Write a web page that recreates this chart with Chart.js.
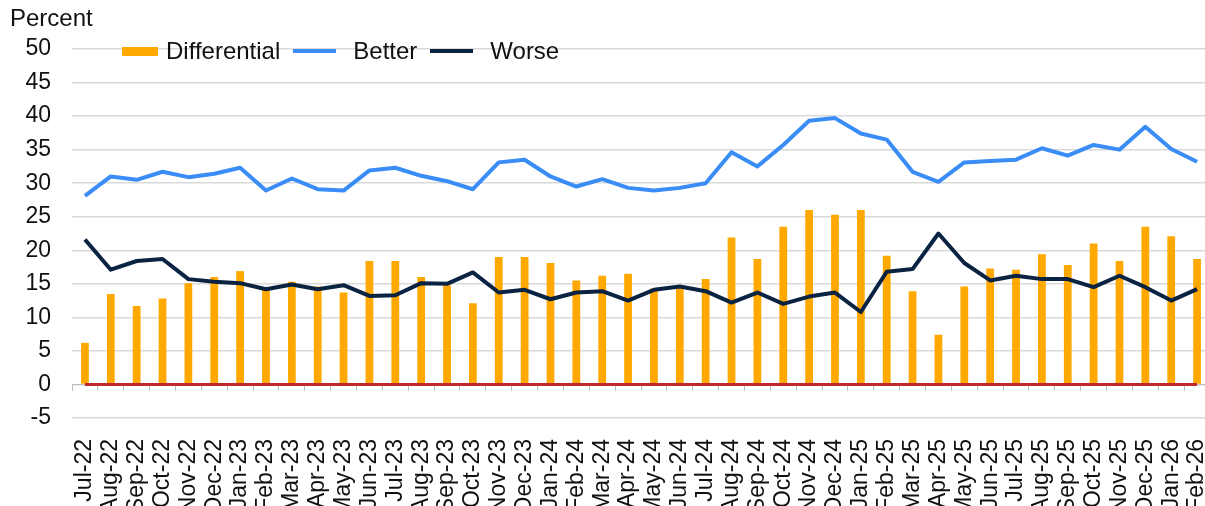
<!DOCTYPE html>
<html>
<head>
<meta charset="utf-8">
<script src="https://cdn.jsdelivr.net/npm/chart.js@4.4.0/dist/chart.umd.min.js"></script>
<style>
    html, body { margin: 0; padding: 0; background: #fff; overflow: hidden; }
    #wrap { position: relative; width: 1210px; height: 506px; font-family: "Liberation Sans", Arial, sans-serif; color: #000; }
    #unit { position: absolute; left: 10px; top: 4px; font-size: 24px; color: #111; }
    #legend { position: absolute; left: 122px; top: 37px; display: flex; align-items: center; font-size: 24px; color: #111; }
    #legend .item { display: flex; align-items: center; margin-right: 13px; }
    #legend .item:last-child { margin-right: 0; }
</style>
</head>
<body>
<div id="wrap">
    <canvas id="chart" width="1210" height="506"></canvas>
    <div id="unit">Percent</div>
    <div id="legend"></div>
</div>
<script>
const months = ['Jul-22','Aug-22','Sep-22','Oct-22','Nov-22','Dec-22',
    'Jan-23','Feb-23','Mar-23','Apr-23','May-23','Jun-23','Jul-23','Aug-23','Sep-23','Oct-23','Nov-23','Dec-23',
    'Jan-24','Feb-24','Mar-24','Apr-24','May-24','Jun-24','Jul-24','Aug-24','Sep-24','Oct-24','Nov-24','Dec-24',
    'Jan-25','Feb-25','Mar-25','Apr-25','May-25','Jun-25','Jul-25','Aug-25','Sep-25','Oct-25','Nov-25','Dec-25',
    'Jan-26','Feb-26'];

const differential = [6.2, 13.5, 11.7, 12.8, 15.1, 16.0,
    16.9, 14.4, 15.3, 14.6, 13.7, 18.4, 18.4, 16.0, 14.8, 12.1, 19.0, 19.0,
    18.1, 15.5, 16.2, 16.5, 14.3, 14.6, 15.7, 21.9, 18.7, 23.5, 26.0, 25.3,
    26.0, 19.2, 13.9, 7.4, 14.6, 17.3, 17.1, 19.4, 17.8, 21.0, 18.4, 23.5,
    22.1, 18.7];

const better = [28.1, 31.0, 30.5, 31.7, 30.9, 31.4,
    32.3, 28.9, 30.7, 29.1, 28.9, 31.9, 32.3, 31.1, 30.3, 29.1, 33.1, 33.5,
    31.0, 29.5, 30.6, 29.3, 28.9, 29.3, 30.0, 34.6, 32.5, 35.7, 39.3, 39.7,
    37.4, 36.5, 31.7, 30.2, 33.1, 33.3, 33.5, 35.2, 34.1, 35.7, 35.0, 38.4,
    35.1, 33.2];

const worse = [21.6, 17.1, 18.4, 18.7, 15.7, 15.3,
    15.1, 14.2, 14.9, 14.2, 14.8, 13.2, 13.3, 15.1, 15.0, 16.7, 13.7, 14.1,
    12.7, 13.7, 13.9, 12.5, 14.1, 14.6, 13.9, 12.2, 13.7, 12.0, 13.1, 13.7,
    10.8, 16.8, 17.2, 22.5, 18.1, 15.5, 16.2, 15.7, 15.7, 14.5, 16.2, 14.5,
    12.5, 14.2];

const zeroLine = months.map(() => 0);

const yMin = -5, yMax = 50, yStep = 5;

const colors = {
    differential: '#FFA800',
    better: '#3A8DF7',
    worse: '#0B2342',
    zero: '#C0282E',
    grid: '#D9D9D9'
};

const fontFamily = "'Liberation Sans', Arial, sans-serif";

const chart = new Chart(document.getElementById('chart'), {
    data: {
        labels: months,
        datasets: [
            {
                type: 'line',
                label: 'Worse',
                data: worse,
                borderColor: colors.worse,
                borderWidth: 4,
                pointRadius: 0,
                tension: 0,
                borderJoinStyle: 'round',
                order: 0
            },
            {
                type: 'line',
                label: 'Better',
                data: better,
                borderColor: colors.better,
                borderWidth: 4,
                pointRadius: 0,
                tension: 0,
                borderJoinStyle: 'round',
                order: 1
            },
            {
                type: 'line',
                label: 'zero',
                data: zeroLine,
                borderColor: colors.zero,
                borderWidth: 3,
                pointRadius: 0,
                order: 2
            },
            {
                type: 'bar',
                label: 'Differential',
                data: differential,
                backgroundColor: colors.differential,
                categoryPercentage: 1,
                barPercentage: 0.3,
                order: 3
            }
        ]
    },
    options: {
        responsive: false,
        animation: false,
        layout: { padding: { left: 25, top: 49, right: 0, bottom: 0 } },
        plugins: {
            legend: { display: false },
            tooltip: { enabled: false }
        },
        scales: {
            x: {
                type: 'category',
                offset: true,
                grid: { display: false },
                border: { display: false },
                ticks: {
                    color: '#111',
                    font: { family: fontFamily, size: 23 },
                    maxRotation: 90,
                    minRotation: 90,
                    autoSkip: false,
                    padding: 13
                },
                afterFit: function(scale) {
                    // keep the plot reaching the edges like the source
                    scale.height = 88;
                    scale.paddingLeft = 0;
                    scale.paddingRight = 0;
                }
            },
            x2: {
                type: 'category',
                axis: 'x',
                labels: months,
                offset: true,
                position: { y: 0 },
                grid: { drawOnChartArea: false, color: '#BFBFBF', tickLength: 6, offset: true },
                border: { color: '#BFBFBF', width: 1 },
                ticks: { display: false },
                afterFit: function(scale) {
                    scale.paddingLeft = 0;
                    scale.paddingRight = 0;
                }
            },
            y: {
                min: yMin,
                max: yMax,
                grid: { color: colors.grid, lineWidth: 1.5, drawTicks: false },
                border: { display: false },
                ticks: {
                    stepSize: yStep,
                    color: '#111',
                    font: { family: fontFamily, size: 23 },
                    padding: 21
                },
                afterFit: function(scale) {
                    scale.width = 47;
                }
            }
        }
    }
});

// html legend, same look as the source (box for bars, line for lines)
const legendEl = document.getElementById('legend');
['Differential', 'Better', 'Worse'].forEach(name => {
    const ds = chart.data.datasets.find(d => d.label === name);
    const item = document.createElement('div');
    item.className = 'item';
    const sym = document.createElement('span');
    sym.style.display = 'inline-block';
    if (ds.type === 'bar') {
        sym.style.width = '36px';
        sym.style.height = '9px';
        sym.style.marginRight = '8px';
        sym.style.background = ds.backgroundColor;
    } else {
        sym.style.width = '43px';
        sym.style.height = '4px';
        sym.style.marginRight = '17px';
        sym.style.background = ds.borderColor;
    }
    const txt = document.createElement('span');
    txt.textContent = name;
    item.appendChild(sym);
    item.appendChild(txt);
    legendEl.appendChild(item);
});
</script>
</body>
</html>
